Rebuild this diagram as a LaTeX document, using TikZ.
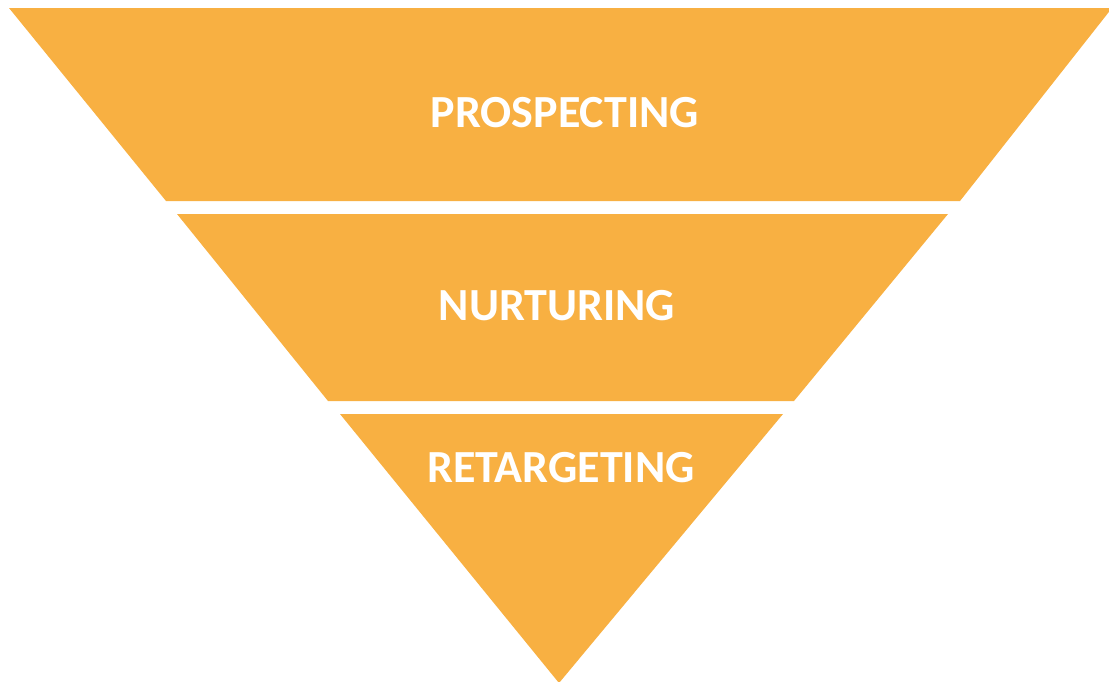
\documentclass[tikz,border=0pt]{standalone}
\usepackage{fontspec}
\setmainfont{Carlito}
\definecolor{funnel}{RGB}{248,176,66}
\begin{document}
\begin{tikzpicture}[x=1pt,y=-1pt,
  band/.style={fill=funnel,draw=none},
  lbl/.style={text=white,font=\fontsize{46}{50}\selectfont\bfseries,anchor=center,inner sep=0pt}]
\useasboundingbox (0,0) rectangle (1109,681);
\begin{scope}
\clip (0,0) rectangle (1109,681);
\fill[band] (9,8) -- (1112,8) -- (960,201) -- (166,201) -- cycle;
\fill[band] (177,214) -- (948,214) -- (794,401) -- (328,401) -- cycle;
\fill[band] (340,414) -- (783,414) -- (559,683) -- cycle;
\end{scope}
\node[lbl] (p) at (565,113) {PROSPECTING};
\node[lbl] (n) at (557,306) {NURTURING};
\node[lbl] (r) at (561,468) {RETARGETING};
\end{tikzpicture}
\end{document}
